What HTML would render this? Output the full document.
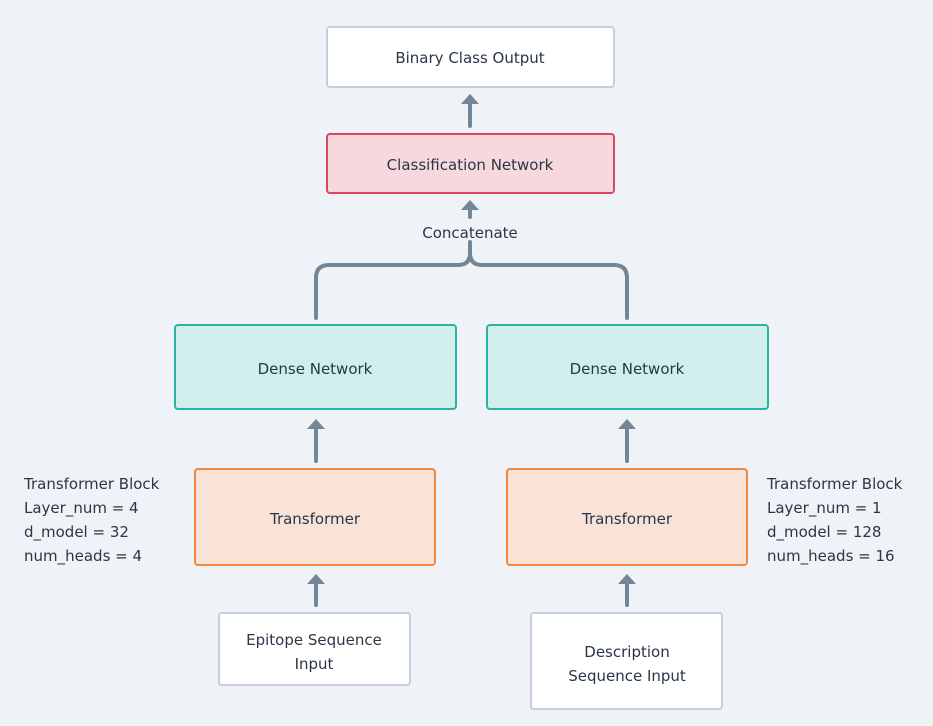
<!DOCTYPE html>
<html><head><style>
body{margin:0;background:#eff3f7;}
svg{display:block;font-family:"DejaVu Sans","Liberation Sans",sans-serif;}
text{fill:#2a3646;font-size:15px;}
</style></head><body>
<svg width="933" height="726" viewBox="0 0 933 726">
<rect width="933" height="726" fill="#eff3f7"/>
<g stroke-width="2">
<rect x="327" y="27" width="287" height="60" rx="3" fill="#fff" stroke="#c5d0dc"/>
<rect x="327" y="134" width="287" height="59" rx="3" fill="#f7d9dd" stroke="#d9485f"/>
<rect x="175" y="325" width="281" height="84" rx="3" fill="#d0efec" stroke="#2bb3a3"/>
<rect x="487" y="325" width="281" height="84" rx="3" fill="#d0efec" stroke="#2bb3a3"/>
<rect x="195" y="469" width="240" height="96" rx="3" fill="#f9e3d8" stroke="#ef8a45"/>
<rect x="507" y="469" width="240" height="96" rx="3" fill="#f9e3d8" stroke="#ef8a45"/>
<rect x="219" y="613" width="191" height="72" rx="3" fill="#fff" stroke="#c5d0dc"/>
<rect x="531" y="613" width="191" height="96" rx="3" fill="#fff" stroke="#c5d0dc"/>
</g>
<g stroke="#738596" stroke-width="4" fill="none" stroke-linecap="round">
<line x1="470" y1="126" x2="470" y2="104"/>
<line x1="470" y1="217" x2="470" y2="208"/>
<path d="M316 318 V278 Q316 265 329 265 H458 Q470 265 470 253 V242 M470 253 Q470 265 482 265 H614 Q627 265 627 278 V318"/>
<line x1="316" y1="461" x2="316" y2="428"/>
<line x1="627" y1="461" x2="627" y2="428"/>
<line x1="316" y1="605" x2="316" y2="583"/>
<line x1="627" y1="605" x2="627" y2="583"/>
</g>
<g fill="#738596">
<path d="M461 104 L470 94 L479 104 Z"/>
<path d="M461 210 L470 200 L479 210 Z"/>
<path d="M307 429 L316 419 L325 429 Z"/>
<path d="M618 429 L627 419 L636 429 Z"/>
<path d="M307 584 L316 574 L325 584 Z"/>
<path d="M618 584 L627 574 L636 584 Z"/>
</g>
<g text-anchor="middle">
<text x="470" y="63">Binary Class Output</text>
<text x="470" y="170">Classification Network</text>
<text x="470" y="238">Concatenate</text>
<text x="315" y="374">Dense Network</text>
<text x="627" y="374">Dense Network</text>
<text x="315" y="524">Transformer</text>
<text x="627" y="524">Transformer</text>
<text x="314" y="645">Epitope Sequence</text>
<text x="314" y="669">Input</text>
<text x="627" y="657">Description</text>
<text x="627" y="681">Sequence Input</text>
</g>
<g>
<text x="24" y="489">Transformer Block</text>
<text x="24" y="513">Layer_num = 4</text>
<text x="24" y="537">d_model = 32</text>
<text x="24" y="561">num_heads = 4</text>
<text x="767" y="489">Transformer Block</text>
<text x="767" y="513">Layer_num = 1</text>
<text x="767" y="537">d_model = 128</text>
<text x="767" y="561">num_heads = 16</text>
</g>
</svg>
</body></html>
